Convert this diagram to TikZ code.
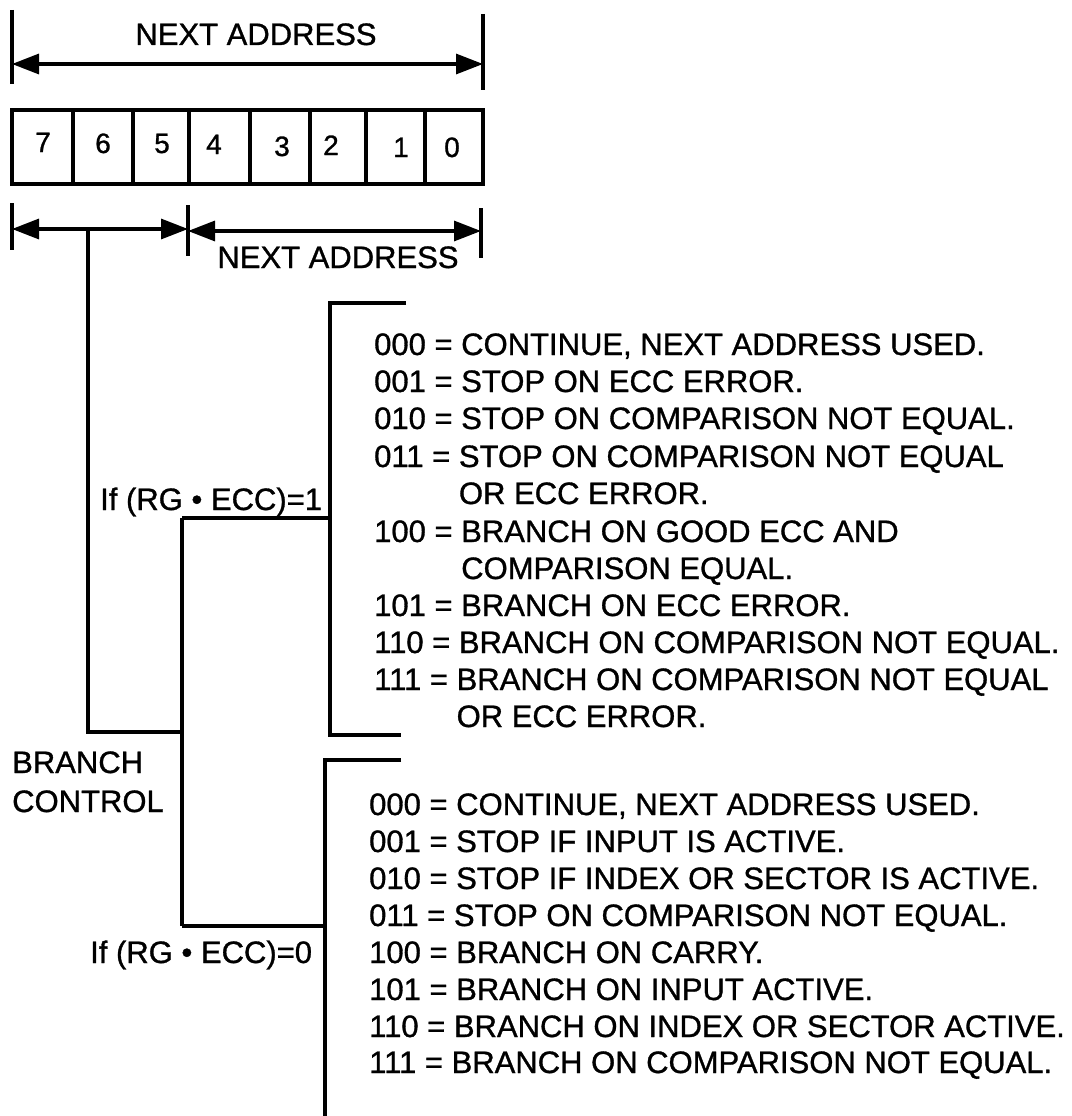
\documentclass[tikz,border=0pt]{standalone}
\usepackage{fontspec}
\setmainfont{Liberation Sans}[FakeBold=1]
\usetikzlibrary{arrows.meta}
\begin{document}
\begin{tikzpicture}[x=1pt,y=-1pt,
  ln/.style={line width=3.2pt},
  dim/.style={line width=3.2pt,{Triangle[length=27pt,width=20pt]}-{Triangle[length=27pt,width=20pt]}},
  lbl/.style={inner sep=0pt,anchor=base west,font=\fontsize{31}{37}\selectfont},
  dig/.style={inner sep=0pt,anchor=base,font=\fontsize{28}{32}\selectfont},
]
\useasboundingbox (0,0) rectangle (1071,1116);

% top dimension line
\coordinate (t1a) at (12,10);  \coordinate (t1b) at (12,84);
\coordinate (t2a) at (483,14); \coordinate (t2b) at (483,90);
\coordinate (aL) at (12,64);   \coordinate (aR) at (483,64);
\draw[ln] (t1a) -- (t1b);
\draw[ln] (t2a) -- (t2b);
\draw[dim] (aL) -- (aR);
\node[lbl,anchor=base] (na1) at (256,45) {NEXT ADDRESS};

% register cells
\foreach \xa/\xb/\n in {12/73/c7,73/133/c6,133/189/c5,189/250/c4,250/310/c3,310/366/c2,366/425/c1,425/483/c0}{
  \draw[ln] (\xa,110) rectangle (\xb,184);
}
\node[dig] (d7) at (43,152) {7};
\node[dig] (d6) at (103,153) {6};
\node[dig] (d5) at (162,153) {5};
\node[dig] (d4) at (214,154) {4};
\node[dig] (d3) at (282,156) {3};
\node[dig] (d2) at (331,155) {2};
\node[dig] (d1) at (401,157) {1};
\node[dig] (d0) at (452,157) {0};

% lower dimension lines
\coordinate (u1a) at (12,203);  \coordinate (u1b) at (12,250);
\coordinate (u2a) at (188,205); \coordinate (u2b) at (188,256);
\coordinate (u3a) at (481,208); \coordinate (u3b) at (481,258);
\draw[ln] (u1a) -- (u1b);
\draw[ln] (u2a) -- (u2b);
\draw[ln] (u3a) -- (u3b);
\coordinate (bL) at (12,229);  \coordinate (bM) at (188,229);
\coordinate (cM) at (188,231); \coordinate (cR) at (481,231);
\draw[dim] (bL) -- (bM);
\draw[dim] (cM) -- (cR);
\node[lbl,anchor=base] (na2) at (338,268) {NEXT ADDRESS};

% branch control tree
\coordinate (s0) at (88,229);
\coordinate (s1) at (88,732);
\coordinate (s2) at (182,732);
\coordinate (k1) at (182,518);
\coordinate (k2) at (182,926);
\coordinate (j1) at (330,518);
\coordinate (j2) at (325,926);
\draw[ln] (s0) -- (s1) -- (s2);
\draw[ln] (k1) -- (k2);
\draw[ln] (k1) -- (j1);
\draw[ln] (k2) -- (j2);

% upper bracket
\coordinate (ub1) at (406,303);
\coordinate (ub2) at (330,303);
\coordinate (ub3) at (330,735);
\coordinate (ub4) at (401,735);
\draw[ln] (ub1) -- (ub2) -- (ub3) -- (ub4);
% lower bracket
\coordinate (lb1) at (401,760);
\coordinate (lb2) at (325,760);
\coordinate (lb3) at (325,1116);
\draw[ln] (lb1) -- (lb2) -- (lb3);

% labels
\node[lbl] (if1) at (100,510) {If (RG • ECC)=1};
\node[lbl] (if0) at (90,963) {If (RG • ECC)=0};
\node[lbl] (br) at (12,773) {BRANCH};
\node[lbl] (ct) at (12,812) {CONTROL};

% upper list
\node[lbl] (p1) at (374,355) {000 = CONTINUE, NEXT ADDRESS USED.};
\node[lbl] (p2) at (374,392) {001 = STOP ON ECC ERROR.};
\node[lbl] (p3) at (374,429) {010 = STOP ON COMPARISON NOT EQUAL.};
\node[lbl] (p4) at (374,467) {011 = STOP ON COMPARISON NOT EQUAL};
\node[lbl] (p5) at (374,504) {\phantom{011 = }OR ECC ERROR.};
\node[lbl] (p6) at (374,542) {100 = BRANCH ON GOOD ECC AND};
\node[lbl] (p7) at (374,579) {\phantom{100 = }COMPARISON EQUAL.};
\node[lbl] (p8) at (374,616) {101 = BRANCH ON ECC ERROR.};
\node[lbl] (p9) at (374,653) {110 = BRANCH ON COMPARISON NOT EQUAL.};
\node[lbl] (p10) at (374,690) {111 = BRANCH ON COMPARISON NOT EQUAL};
\node[lbl] (p11) at (374,727) {\phantom{111 = }OR ECC ERROR.};

% lower list
\node[lbl] (q1) at (369,815) {000 = CONTINUE, NEXT ADDRESS USED.};
\node[lbl] (q2) at (369,852) {001 = STOP IF INPUT IS ACTIVE.};
\node[lbl] (q3) at (369,889) {010 = STOP IF INDEX OR SECTOR IS ACTIVE.};
\node[lbl] (q4) at (369,926) {011 = STOP ON COMPARISON NOT EQUAL.};
\node[lbl] (q5) at (369,963) {100 = BRANCH ON CARRY.};
\node[lbl] (q6) at (369,1000) {101 = BRANCH ON INPUT ACTIVE.};
\node[lbl] (q7) at (369,1037) {110 = BRANCH ON INDEX OR SECTOR ACTIVE.};
\node[lbl] (q8) at (369,1073) {111 = BRANCH ON COMPARISON NOT EQUAL.};
\end{tikzpicture}
\end{document}
